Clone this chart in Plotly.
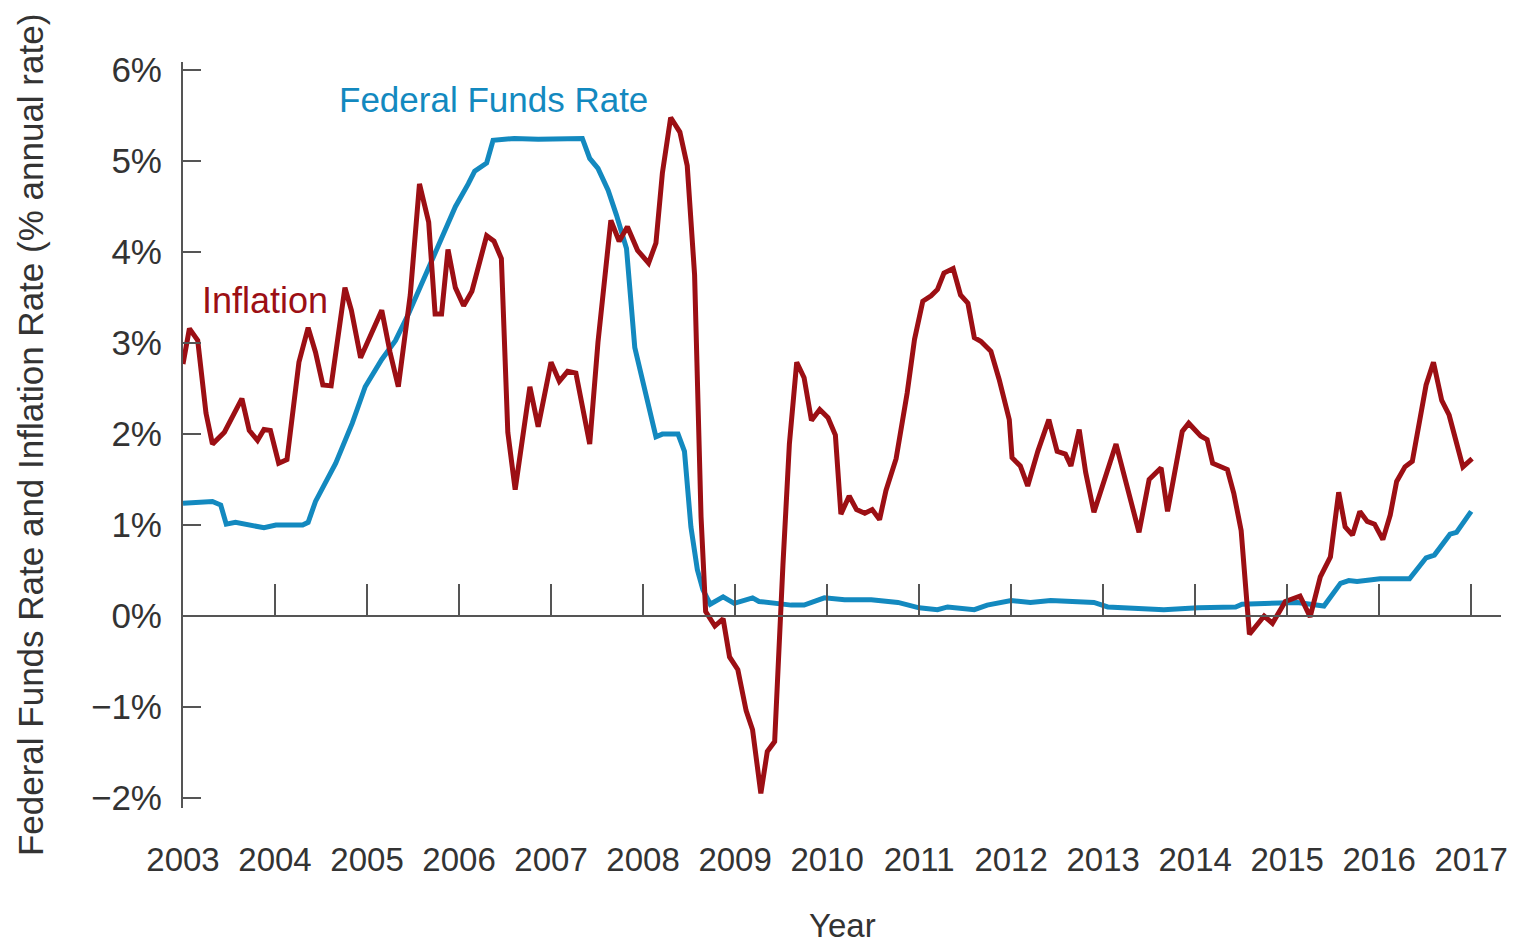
import plotly.graph_objects as go

# ---- data (decimal year, percent) ----
infl_year = [2003.00, 2003.07, 2003.16, 2003.25, 2003.32, 2003.45, 2003.64, 2003.72, 2003.81, 2003.88,
             2003.95, 2004.04, 2004.13, 2004.26, 2004.36, 2004.44, 2004.52, 2004.61, 2004.76, 2004.83,
             2004.93, 2005.16, 2005.25, 2005.34, 2005.47, 2005.57, 2005.67, 2005.74, 2005.81, 2005.88,
             2005.96, 2006.05, 2006.14, 2006.30, 2006.38, 2006.46, 2006.53, 2006.61, 2006.77, 2006.86,
             2007.00, 2007.09, 2007.18, 2007.27, 2007.42, 2007.51, 2007.65, 2007.74, 2007.83, 2007.94,
             2008.06, 2008.14, 2008.21, 2008.30, 2008.40, 2008.48, 2008.56, 2008.63, 2008.68, 2008.78,
             2008.87, 2008.94, 2009.03, 2009.12, 2009.19, 2009.28, 2009.35, 2009.43, 2009.52, 2009.59,
             2009.67, 2009.75, 2009.83, 2009.92, 2010.01, 2010.09, 2010.15, 2010.24, 2010.32, 2010.41,
             2010.49, 2010.57, 2010.64, 2010.75, 2010.87, 2010.95, 2011.04, 2011.13, 2011.20, 2011.27,
             2011.37, 2011.45, 2011.53, 2011.60, 2011.67, 2011.78, 2011.87, 2011.98, 2012.01, 2012.10,
             2012.18, 2012.29, 2012.41, 2012.50, 2012.59, 2012.65, 2012.74, 2012.81, 2012.90, 2013.14,
             2013.39, 2013.50, 2013.63, 2013.70, 2013.86, 2013.93, 2014.06, 2014.13, 2014.19, 2014.35,
             2014.42, 2014.50, 2014.59, 2014.75, 2014.84, 2014.98, 2015.14, 2015.25, 2015.36, 2015.47,
             2015.56, 2015.63, 2015.71, 2015.79, 2015.87, 2015.95, 2016.04, 2016.12, 2016.19, 2016.28,
             2016.36, 2016.51, 2016.59, 2016.68, 2016.76, 2016.91, 2017.01]
infl_rate = [2.77, 3.16, 3.03, 2.23, 1.89, 2.02, 2.39, 2.04, 1.93, 2.05,
             2.04, 1.68, 1.72, 2.79, 3.17, 2.90, 2.54, 2.53, 3.61, 3.36,
             2.84, 3.36, 2.90, 2.52, 3.53, 4.75, 4.33, 3.32, 3.32, 4.03,
             3.61, 3.41, 3.57, 4.18, 4.12, 3.93, 2.02, 1.39, 2.52, 2.08,
             2.79, 2.58, 2.69, 2.67, 1.89, 3.01, 4.35, 4.12, 4.28, 4.02,
             3.88, 4.10, 4.87, 5.48, 5.32, 4.95, 3.75, 1.09, 0.05, -0.11,
             -0.03, -0.45, -0.59, -1.04, -1.25, -1.95, -1.49, -1.38, 0.56, 1.89,
             2.79, 2.62, 2.15, 2.27, 2.18, 1.99, 1.12, 1.32, 1.17, 1.13,
             1.17, 1.06, 1.38, 1.73, 2.45, 3.04, 3.46, 3.52, 3.59, 3.77,
             3.82, 3.53, 3.44, 3.06, 3.02, 2.91, 2.60, 2.16, 1.74, 1.65,
             1.43, 1.81, 2.16, 1.81, 1.78, 1.65, 2.05, 1.58, 1.14, 1.89,
             0.92, 1.50, 1.63, 1.15, 2.03, 2.12, 1.98, 1.94, 1.68, 1.61,
             1.35, 0.94, -0.20, 0.00, -0.08, 0.16, 0.22, -0.01, 0.43, 0.65,
             1.36, 0.98, 0.89, 1.15, 1.04, 1.01, 0.84, 1.11, 1.48, 1.64,
             1.70, 2.54, 2.79, 2.37, 2.21, 1.64, 1.73]

ffr_year = [2003.00, 2003.32, 2003.41, 2003.47, 2003.57, 2003.88, 2004.01, 2004.30, 2004.36, 2004.44,
            2004.66, 2004.84, 2004.98, 2005.16, 2005.31, 2005.45, 2005.74, 2005.96, 2006.10, 2006.17,
            2006.30, 2006.37, 2006.60, 2006.86, 2007.34, 2007.42, 2007.51, 2007.62, 2007.71, 2007.82,
            2007.91, 2008.01, 2008.14, 2008.21, 2008.38, 2008.45, 2008.52, 2008.59, 2008.65, 2008.73,
            2008.87, 2008.99, 2009.19, 2009.26, 2009.46, 2009.61, 2009.75, 2009.97, 2010.19, 2010.48,
            2010.77, 2011.00, 2011.20, 2011.31, 2011.60, 2011.74, 2012.00, 2012.21, 2012.43, 2012.90,
            2013.05, 2013.66, 2014.03, 2014.44, 2014.51, 2014.82, 2015.11, 2015.40, 2015.58, 2015.67,
            2015.76, 2016.01, 2016.33, 2016.51, 2016.60, 2016.77, 2016.84, 2017.00]
ffr_rate = [1.24, 1.26, 1.22, 1.01, 1.03, 0.97, 1.00, 1.00, 1.03, 1.26,
            1.68, 2.12, 2.52, 2.82, 3.03, 3.32, 3.99, 4.50, 4.75, 4.89,
            4.98, 5.23, 5.25, 5.24, 5.25, 5.03, 4.92, 4.68, 4.41, 4.04,
            2.95, 2.53, 1.97, 2.00, 2.00, 1.81, 0.98, 0.51, 0.29, 0.13,
            0.21, 0.14, 0.20, 0.16, 0.13, 0.12, 0.12, 0.20, 0.18, 0.18,
            0.15, 0.09, 0.07, 0.10, 0.07, 0.12, 0.17, 0.15, 0.17, 0.15,
            0.10, 0.07, 0.09, 0.10, 0.13, 0.14, 0.15, 0.11, 0.36, 0.39,
            0.38, 0.41, 0.41, 0.64, 0.67, 0.90, 0.92, 1.15]

year_ticks = list(range(2003, 2018))
year_labels = [str(y) for y in year_ticks]
pct_ticks = [-2, -1, 0, 1, 2, 3, 4, 5, 6]
pct_labels = [("\u2212%d%%" % -v) if v < 0 else ("%d%%" % v) for v in pct_ticks]

BLUE = "#1389bf"
RED = "#9c0f14"
AXIS = "#555555"
TEXT = "#333333"
FONT = "Liberation Sans, Arial, Helvetica, sans-serif"

Y_RANGE = [-2.11, 6.09]
X_RANGE = [2003, 2017.324]

fig = go.Figure()
fig.add_trace(go.Scatter(x=ffr_year, y=ffr_rate, mode="lines", name="Federal Funds Rate",
                         line=dict(color=BLUE, width=5), xaxis="x", yaxis="y"))
fig.add_trace(go.Scatter(x=infl_year, y=infl_rate, mode="lines", name="Inflation",
                         line=dict(color=RED, width=5), xaxis="x", yaxis="y"))

zero_pos = (0 - Y_RANGE[0]) / (Y_RANGE[1] - Y_RANGE[0])

fig.update_layout(
    width=1511, height=937,
    margin=dict(l=175, r=11, t=54, b=137),
    paper_bgcolor="white", plot_bgcolor="white",
    showlegend=False,
    font=dict(family=FONT, color=TEXT, size=33),
    xaxis=dict(
        range=X_RANGE, showgrid=False, zeroline=False, showline=False,
        tickmode="array", tickvals=year_ticks, ticktext=year_labels,
        ticks="outside", ticklen=22, tickcolor="rgba(0,0,0,0)",
        tickfont=dict(size=33, color=TEXT, family=FONT),
    ),
    xaxis2=dict(
        overlaying="x", matches="x", anchor="free", position=zero_pos, side="bottom",
        range=X_RANGE, showgrid=False, zeroline=False,
        showline=True, linecolor=AXIS, linewidth=2,
        tickmode="array", tickvals=year_ticks[1:],
        ticks="inside", ticklen=31, tickwidth=2, tickcolor=AXIS,
        showticklabels=False,
    ),
    yaxis=dict(
        range=Y_RANGE, showgrid=False, zeroline=False,
        showline=True, linecolor=AXIS, linewidth=2,
        tickmode="array", tickvals=pct_ticks, ticktext=pct_labels,
        ticks="inside", ticklen=18, tickwidth=2, tickcolor=AXIS,
        tickfont=dict(size=35, color=TEXT, family=FONT),
        ticklabelstandoff=12,
    ),
)
# invisible trace to activate the overlay axis at y = 0
fig.add_trace(go.Scatter(x=[X_RANGE[0]], y=[0], mode="markers", marker=dict(opacity=0),
                         xaxis="x2", yaxis="y", hoverinfo="skip", showlegend=False))

fig.add_annotation(text="Federal Funds Rate", x=2004.67, y=5.68, xref="x", yref="y",
                   xanchor="left", yanchor="middle", showarrow=False,
                   font=dict(size=35, color=BLUE, family=FONT))
fig.add_annotation(text="Inflation", x=2003.18, y=3.47, xref="x", yref="y",
                   xanchor="left", yanchor="middle", showarrow=False,
                   font=dict(size=36, color=RED, family=FONT))
fig.add_annotation(text="Federal Funds Rate and Inflation Rate (% annual rate)",
                   x=-0.116, y=0.5, xref="paper", yref="paper", textangle=-90,
                   xanchor="center", yanchor="middle", showarrow=False,
                   font=dict(size=35, color=TEXT, family=FONT))
fig.add_annotation(text="Year", x=0.5, y=-0.158, xref="paper", yref="paper",
                   xanchor="center", yanchor="middle", showarrow=False,
                   font=dict(size=33, color=TEXT, family=FONT))

fig.write_html("out.html")
